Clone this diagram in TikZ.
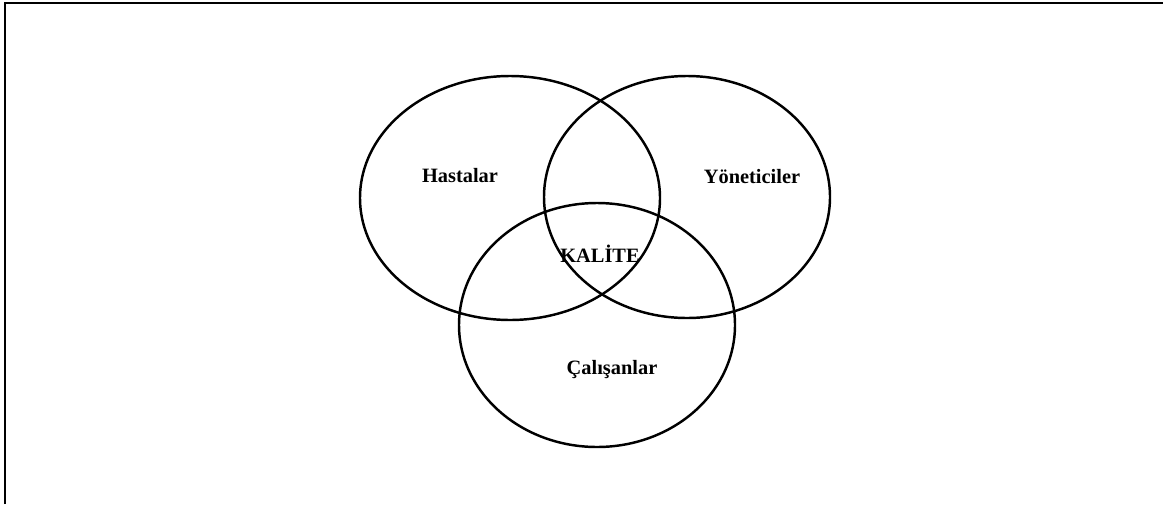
\documentclass[tikz,border=0pt]{standalone}
\usepackage{fontspec}
\setmainfont{Liberation Serif}
\tikzset{
  setline/.style={draw=black, line width=1.4pt},
  setlabel/.style={font=\bfseries\fontsize{11.6}{13}\selectfont, inner sep=0pt},
}
\begin{document}
\begin{tikzpicture}[x=0.02cm, y=-0.02cm]
        \useasboundingbox (0,0) rectangle (1163,504);

        % Frame (only top and left edges show)
        \draw[line width=1.6pt] (5,504) -- (5,3) -- (1163,3);

        % Centres of the three sets
        \coordinate (hastaC) at (510,198);
        \coordinate (yonetC) at (687,197);
        \coordinate (calisC) at (597,325);

        % The three sets
        \draw[setline] (hastaC) ellipse [x radius=150, y radius=122];
        \draw[setline] (yonetC) ellipse [x radius=143, y radius=121];
        \draw[setline] (calisC) ellipse [x radius=138, y radius=122];

        % Labels
        \node[setlabel] (hasta) at (460,176) {Hastalar};
        \node[setlabel] (yonet) at (752,177) {Yöneticiler};
        \node[setlabel] (calis) at (612,370) {Çalışanlar};
        \node[setlabel] (kalite) at (600,254) {KALİTE};
    \end{tikzpicture}
\end{document}
